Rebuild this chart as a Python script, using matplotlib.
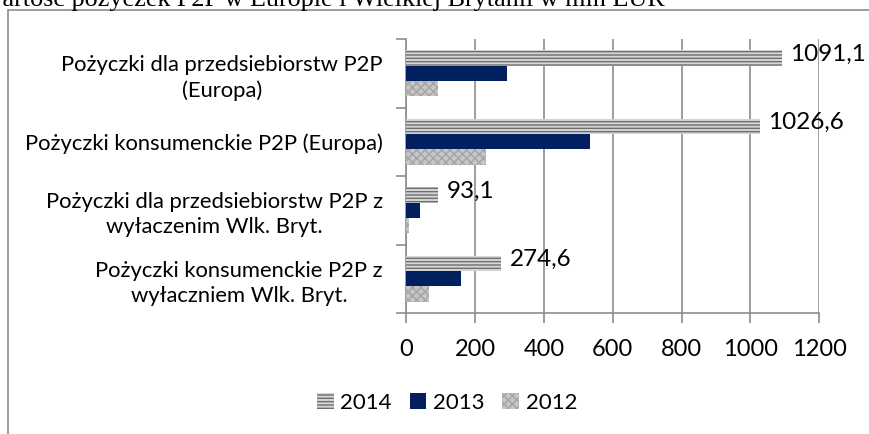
import matplotlib.pyplot as plt
import numpy as np
from matplotlib.patches import Rectangle, Patch

plt.rcParams['font.family'] = ['Lato', 'DejaVu Sans']
plt.rcParams['hatch.linewidth'] = 1.0

# dane (mln EUR)
categories = ['Pożyczki dla przedsiebiorstw P2P\n(Europa)',
              'Pożyczki konsumenckie P2P (Europa)',
              'Pożyczki dla przedsiebiorstw P2P z\nwyłaczenim Wlk. Bryt.',
              'Pożyczki konsumenckie P2P z\nwyłaczniem Wlk. Bryt.']
years = ['2014', '2013', '2012']
v2014 = [1091.1, 1026.6, 93.1, 274.6]
v2013 = [293, 534, 40, 158]
v2012 = [91, 231, 8, 65]
labels_2014 = ['1091,1', '1026,6', '93,1', '274,6']
xticks = [0, 200, 400, 600, 800, 1000, 1200]

W, H = 870, 434
fig = plt.figure(figsize=(W / 100, H / 100), dpi=100)

# ramka wykresu
fig.patches.append(Rectangle((8 / W, -0.1), 1.2, 1 - 10 / H + 0.1, transform=fig.transFigure,
                             fill=False, edgecolor='#8c8c8c', linewidth=1.2))

# tytul (obciety u gory)
fig.text(-20 / W, 1 - 6 / H, 'Wartość pożyczek P2P w Europie i Wielkiej Brytanii w mln EUR',
         family='Liberation Serif', fontsize=18.8, va='baseline', ha='left')

ax = fig.add_axes([406.3 / W, 1 - 313 / H, 413 / W, 274 / H])

pos = np.arange(len(categories))
h = 0.226
styles = {
    '2014': dict(facecolor='#d6d6d6', edgecolor='#6e6e6e', hatch='-----', linewidth=0),
    '2013': dict(facecolor='#002060', edgecolor='#002060', linewidth=0),
    '2012': dict(facecolor='#c6c6c6', edgecolor='#a4a4a4', hatch='xxxx', linewidth=0),
}
for vals, yr, off in [(v2014, '2014', -h), (v2013, '2013', 0), (v2012, '2012', h)]:
    ax.barh(pos + off, vals, height=h, zorder=3, **styles[yr])

for i, (v, lab) in enumerate(zip(v2014, labels_2014)):
    ax.text(v + 25, pos[i] - h * 1.25, lab, va='center', ha='left', fontsize=17.5, zorder=4)

ax.set_xlim(0, 1200)
ax.set_ylim(3.5, -0.5)
ax.set_xticks(xticks)
ax.set_xticklabels([str(t) for t in xticks], fontsize=17)
ax.set_yticks(np.arange(-0.5, 4.0, 1.0))
ax.set_yticklabels([])
ax.set_yticks(pos, minor=True)
ax.set_yticklabels(categories, minor=True, fontsize=15.8, ha='right', linespacing=1.3)
for lab in ax.get_yticklabels(minor=True):
    lab.set_multialignment('center')
ax.tick_params(axis='y', which='minor', length=0, pad=17)
ax.tick_params(axis='y', which='major', length=7, color='#8c8c8c', width=1.2)
ax.tick_params(axis='x', length=7, color='#8c8c8c', width=1.2, pad=12)
ax.grid(axis='x', color='#8c8c8c', linewidth=1.2, zorder=0)
for s in ['top', 'right']:
    ax.spines[s].set_visible(False)
for s in ['left', 'bottom']:
    ax.spines[s].set_color('#8c8c8c')
    ax.spines[s].set_linewidth(1.2)

handles = [Patch(**styles[y], label=y) for y in years]
fig.legend(handles=handles, loc='center', bbox_to_anchor=(447 / W, 1 - 403 / H), ncol=3,
           frameon=False, fontsize=16, handlelength=0.75, handleheight=0.75,
           handletextpad=0.3, columnspacing=0.8)

fig.savefig('out.png', dpi=100)
